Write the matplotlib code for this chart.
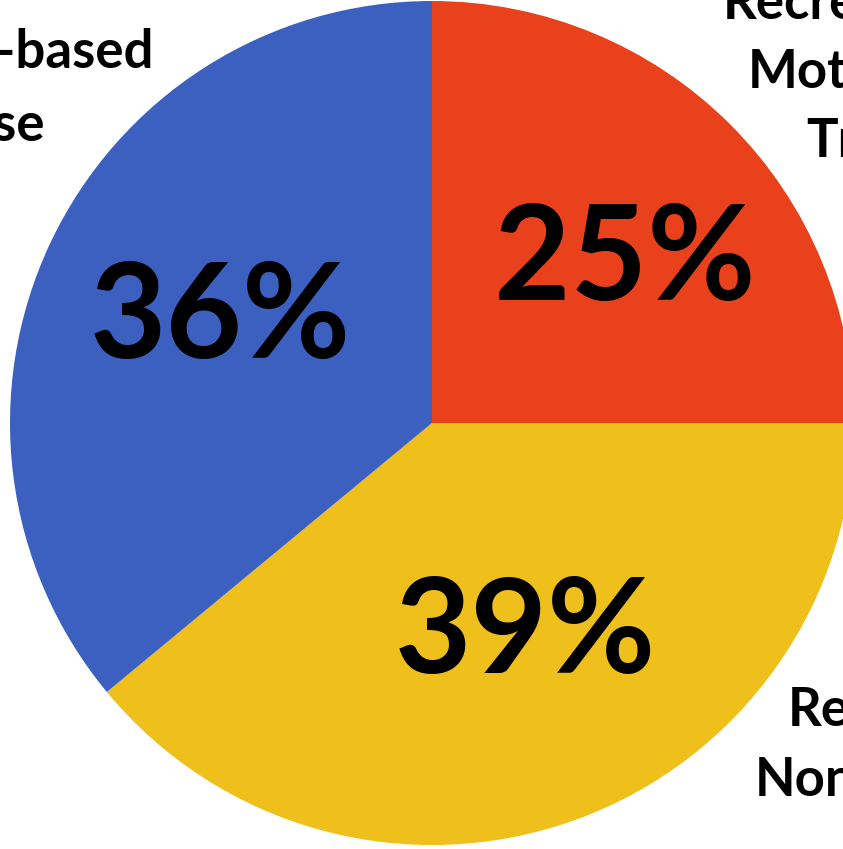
import matplotlib.pyplot as plt

# shares of each use type
labels = ["Recreational\nMotorized\nTrails", "Recreational\nNon-motorized\nTrails", "Dispersed\nWater-based\nUse"]
shares = [25, 39, 36]
colors = ["#E8411B", "#EFC01B", "#3B60C0"]

W, H = 843, 849
fig = plt.figure(figsize=(W / 100, H / 100), dpi=100)
ax = fig.add_axes([0, 0, 1, 1])

cx, cy, r = 432, H - 423, 422
ax.pie(shares, colors=colors, startangle=90, counterclock=False,
       center=(cx, cy), radius=r, frame=True, wedgeprops=dict(linewidth=0))
ax.set_xlim(0, W)
ax.set_ylim(0, H)
ax.set_aspect("equal")
ax.axis("off")

font = "Lato"
# percentage labels inside slices
pct_pos = [(625, H - 262), (525, H - 635), (220, H - 320)]
for s, (x, y) in zip(shares, pct_pos):
    ax.text(x, y, f"{s}%", fontsize=95, fontweight="bold", family=font,
            ha="center", va="center")

# outer labels (partly outside the frame)
lab_pos = [(870, H - 72), (935, H - 780), (0, H - 52)]
spacing = [1.5, 1.5, 1.6]
for lab, (x, y), ls in zip(labels, lab_pos, spacing):
    ax.text(x, y, lab, fontsize=38, fontweight="bold", family=font,
            ha="center", va="center", linespacing=ls)

fig.savefig("out.png", dpi=100)
